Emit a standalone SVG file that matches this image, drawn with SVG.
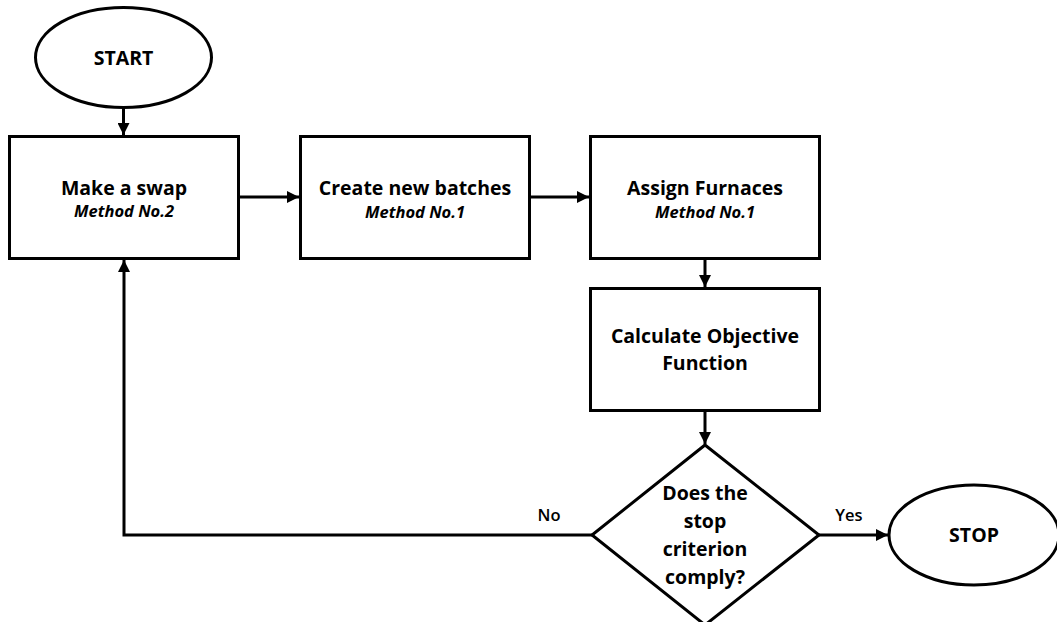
<svg xmlns="http://www.w3.org/2000/svg" width="1057" height="622" viewBox="0 0 1057 622">
<style>
.s{fill:#fff;stroke:#000;stroke-width:3}
.t{font-family:"Open Sans","Liberation Sans",sans-serif;font-weight:bold;font-size:19.5px;fill:#000;text-anchor:middle}
.m{font-family:"Open Sans","Liberation Sans",sans-serif;font-weight:bold;font-style:italic;font-size:16.5px;fill:#000;text-anchor:middle}
.l{font-family:"Open Sans","Liberation Sans",sans-serif;font-weight:600;font-size:16.5px;fill:#000;text-anchor:middle}
.c{fill:none;stroke:#000;stroke-width:3}
</style>
<defs>
<marker id="a" viewBox="0 0 10 10" refX="10" refY="5" markerWidth="4" markerHeight="4" orient="auto" markerUnits="strokeWidth">
<path d="M0,0 L10,5 L0,10 z" fill="#000"/>
</marker>
</defs>
<rect width="1057" height="622" fill="#fff"/>
<g id="connectors">
<line class="c" x1="123.5" y1="108" x2="123.5" y2="135" marker-end="url(#a)"/>
<line class="c" x1="239" y1="197" x2="299" y2="197" marker-end="url(#a)"/>
<line class="c" x1="530" y1="197" x2="589" y2="197" marker-end="url(#a)"/>
<line class="c" x1="705" y1="259" x2="705" y2="287" marker-end="url(#a)"/>
<line class="c" x1="705" y1="411" x2="705" y2="444" marker-end="url(#a)"/>
<line class="c" x1="819" y1="535" x2="888" y2="535" marker-end="url(#a)"/>
<polyline class="c" points="592,535 124,535 124,260" marker-end="url(#a)"/>
<text class="l" x="549" y="521">No</text>
<text class="l" x="849" y="521">Yes</text>
</g>
<g id="start">
<ellipse class="s" cx="123.5" cy="57.5" rx="88" ry="50"/>
<text class="t" x="123.5" y="65">START</text>
</g>
<g id="swap">
<rect class="s" x="9.5" y="136.5" width="229" height="122"/>
<text class="t" x="124" y="195">Make a swap</text>
<text class="m" x="124" y="217">Method No.2</text>
</g>
<g id="batches">
<rect class="s" x="300.5" y="136.5" width="229" height="122"/>
<text class="t" x="415" y="195">Create new batches</text>
<text class="m" x="415" y="218">Method No.1</text>
</g>
<g id="furnaces">
<rect class="s" x="590.5" y="136.5" width="229" height="122"/>
<text class="t" x="705" y="195">Assign Furnaces</text>
<text class="m" x="705" y="218">Method No.1</text>
</g>
<g id="objective">
<rect class="s" x="590.5" y="288.5" width="229" height="122"/>
<text class="t" x="705" y="343">Calculate Objective</text>
<text class="t" x="705" y="370">Function</text>
</g>
<g id="decision">
<polygon class="s" points="705,445 819,535 705,625 592,535"/>
<text class="t" x="705" y="500">Does the</text>
<text class="t" x="705" y="528">stop</text>
<text class="t" x="705" y="556">criterion</text>
<text class="t" x="705" y="584">comply?</text>
</g>
<g id="stop">
<ellipse class="s" cx="974" cy="535" rx="85" ry="50"/>
<text class="t" x="974" y="542">STOP</text>
</g>
</svg>
